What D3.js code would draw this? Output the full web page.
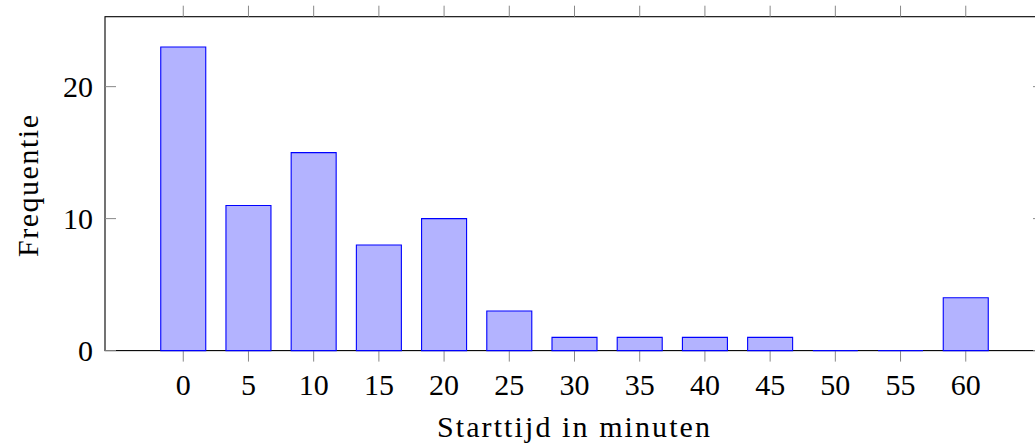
<!DOCTYPE html>
<html><head><meta charset="utf-8">
<script src="https://cdn.jsdelivr.net/npm/d3@7"></script>
<style>body{margin:0;background:#fff}svg{display:block}text{font-family:"Liberation Serif","DejaVu Serif",serif;fill:#000}</style>
</head><body>
<script>
const categories = [0,5,10,15,20,25,30,35,40,45,50,55,60];
const values = [23,11,15,8,10,3,1,1,1,1,0,0,4];
const yTicks = [0,10,20];
const xLabel = "Starttijd in minuten";
const yLabel = "Frequentie";

const W = 1035, H = 448;
const svg = d3.select("body").append("svg").attr("width", W).attr("height", H);
const x = d3.scaleLinear().domain([-6, 66]).range([105, 1044]);
const y = d3.scaleLinear().domain([0, 25.3]).range([350.6, 16.7]);
const bw = 45;
const tickLen = 11;

// frame
svg.append("rect").attr("x", x(-6)).attr("y", y(25.3)).attr("width", x(66)-x(-6)).attr("height", y(0)-y(25.3))
  .attr("fill", "none").attr("stroke", "#000").attr("stroke-width", 1.1);

// x ticks (outside, bottom and top)
const gx = svg.append("g");
categories.forEach(c => {
  gx.append("line").attr("x1", x(c)).attr("x2", x(c)).attr("y1", y(0)).attr("y2", y(0)+tickLen).attr("stroke", "#888").attr("stroke-width", 1);
  gx.append("line").attr("x1", x(c)).attr("x2", x(c)).attr("y1", y(25.3)).attr("y2", y(25.3)-tickLen).attr("stroke", "#888").attr("stroke-width", 1);
  gx.append("text").attr("x", x(c)).attr("y", 395).attr("text-anchor", "middle").attr("font-size", 30).text(c);
});
// y ticks (inside, left and right)
yTicks.forEach(t => {
  svg.append("line").attr("x1", x(-6)).attr("x2", x(-6)+tickLen).attr("y1", y(t)).attr("y2", y(t)).attr("stroke", "#888");
  svg.append("line").attr("x1", x(66)).attr("x2", x(66)-tickLen).attr("y1", y(t)).attr("y2", y(t)).attr("stroke", "#888");
  svg.append("text").attr("x", 93).attr("y", y(t)).attr("dy", "0.34em").attr("text-anchor", "end").attr("font-size", 30).text(t);
});

// bars
svg.append("g").selectAll("path").data(categories).join("path")
  .attr("d", (c, i) => {
    const x0 = x(c) - bw/2, x1 = x(c) + bw/2, y0 = y(0), y1 = y(values[i]);
    return `M${x0},${y0}L${x0},${y1}L${x1},${y1}L${x1},${y0}Z`;
  })
  .attr("fill", "#b3b3ff").attr("stroke", "#0000ff").attr("stroke-width", 1.1);

svg.append("text").attr("x", 573.5).attr("y", 437).attr("text-anchor", "middle").attr("font-size", 30)
  .attr("textLength", 273).attr("lengthAdjust", "spacing").text(xLabel);
svg.append("text").attr("transform", `translate(38,186) rotate(-90)`).attr("text-anchor", "middle").attr("font-size", 30)
  .attr("textLength", 142).attr("lengthAdjust", "spacing").text(yLabel);
</script>
</body></html>
